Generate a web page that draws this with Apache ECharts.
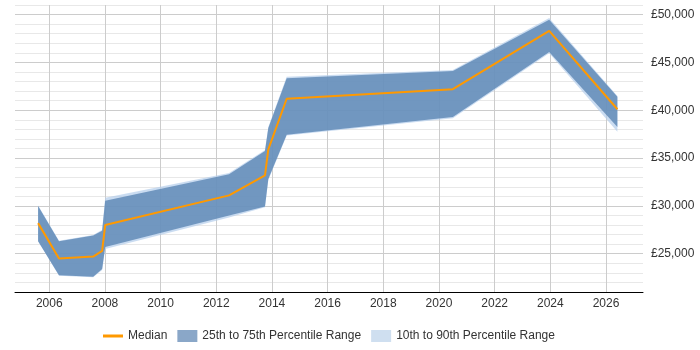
<!DOCTYPE html>
<html>
<head>
<meta charset="utf-8">
<script src="https://cdn.jsdelivr.net/npm/echarts@6/dist/echarts.min.js"></script>
<style>
  html, body { margin: 0; padding: 0; background: #fff; }
  #chart { width: 700px; height: 350px; }
</style>
</head>
<body>
<div id="chart"></div>
<script>
// sample points (decimal year)
const years = [2005.6, 2006.35, 2007.58, 2007.9, 2008.01, 2012.46, 2013.75, 2013.87, 2014.53, 2020.5, 2023.96, 2026.41];
const median = [28200, 24500, 24700, 25300, 28000, 31100, 33200, 35900, 41200, 42200, 48300, 40100];
const p25 = [26300, 22750, 22600, 23400, 25700, 29000, 29950, 32800, 37450, 39300, 46100, 38250];
const p75 = [30000, 26300, 26900, 27400, 30550, 33300, 35750, 38150, 43350, 44100, 49450, 41400];
const p10 = [26300, 22700, 22550, 23300, 25500, 28800, 29850, 32700, 37350, 39150, 45950, 37750];
const p90 = [30050, 26350, 26950, 27500, 30850, 33450, 35850, 38250, 43500, 44200, 49650, 41500];
const yearTicks = [2006, 2008, 2010, 2012, 2014, 2016, 2018, 2020, 2022, 2024, 2026];

const font = 'Liberation Sans, Arial, sans-serif';
const pair = (arr) => years.map((x, i) => [x, arr[i]]);

// band drawn as one polygon: upper edge forward, lower edge back
function bandSeries(name, lo, hi, color) {
  return {
    name,
    type: 'custom',
    data: years.map((x, i) => [x, lo[i], hi[i]]),
    encode: { x: 0, y: [1, 2] },
    itemStyle: { color },
    silent: true,
    renderItem: (params, api) => {
      if (params.dataIndex !== 0) return null;
      const pts = [];
      for (let i = 0; i < years.length; i++) pts.push(api.coord([years[i], hi[i]]));
      for (let i = years.length - 1; i >= 0; i--) pts.push(api.coord([years[i], lo[i]]));
      return {
        type: 'polygon',
        shape: { points: pts },
        style: { fill: color },
      };
    },
  };
}

const chart = echarts.init(document.getElementById('chart'));

chart.setOption({
  animation: false,
  textStyle: { fontFamily: font },
  grid: { left: 15, right: 57, top: 5, bottom: 58 },
  legend: {
    left: 98,
    top: 325,
    itemWidth: 20,
    itemHeight: 12,
    itemGap: 10,
    textStyle: { fontSize: 12, color: '#333', fontFamily: font },
    data: [
      { name: 'Median', icon: 'path://M0,0H20V3H0Z' },
      { name: '25th to 75th Percentile Range', icon: 'rect', itemStyle: { color: '#8aa7c8' } },
      { name: '10th to 90th Percentile Range', icon: 'rect', itemStyle: { color: '#cfdff0' } },
    ],
  },
  xAxis: {
    type: 'value',
    min: 2004.77,
    max: 2027.33,
    axisLine: { lineStyle: { color: '#000', width: 1 } },
    axisTick: { show: false, customValues: yearTicks },
    axisLabel: { customValues: yearTicks, color: '#333', fontSize: 12, margin: 6, formatter: (v) => String(v) },
    splitLine: { show: true, lineStyle: { color: '#cccccc' } },
  },
  yAxis: {
    type: 'value',
    position: 'right',
    min: 21000,
    max: 51000,
    interval: 1000,
    axisLine: { show: false },
    axisTick: { show: false },
    axisLabel: {
      color: '#333',
      fontSize: 12,
      margin: 8,
      formatter: (v) => (v % 5000 === 0 ? '£' + v.toLocaleString('en-GB') : ''),
    },
    splitLine: {
      lineStyle: { color: ['#e8e8e8', '#e8e8e8', '#e8e8e8', '#e8e8e8', '#cccccc'] },
    },
  },
  series: [
    bandSeries('10th to 90th Percentile Range', p10, p90, 'rgba(180,205,235,0.7)'),
    bandSeries('25th to 75th Percentile Range', p25, p75, 'rgba(91,134,180,0.8)'),
    {
      name: 'Median',
      type: 'line',
      data: pair(median),
      symbol: 'none',
      itemStyle: { color: '#ff9900' },
      lineStyle: { color: '#ff9900', width: 2 },
      z: 5,
    },
  ],
});
</script>
</body>
</html>
